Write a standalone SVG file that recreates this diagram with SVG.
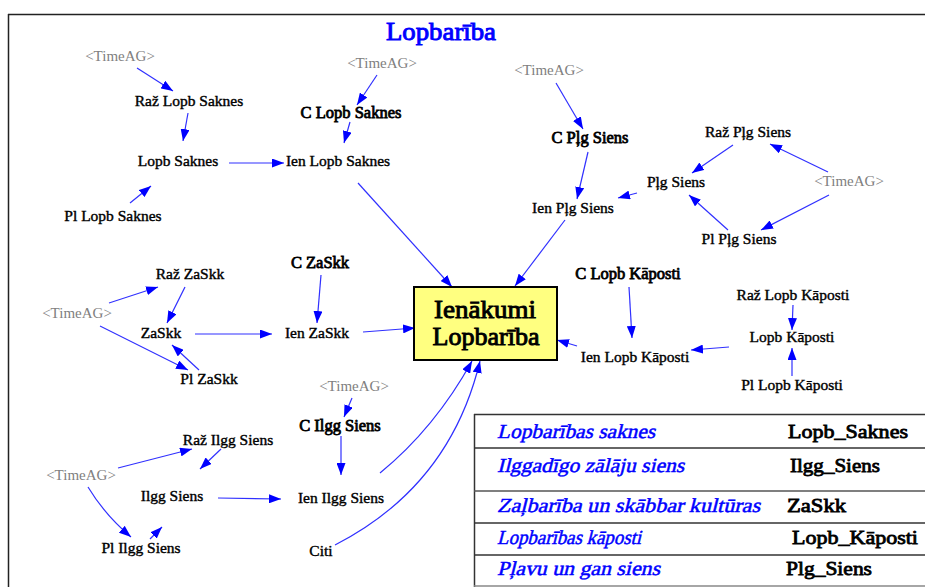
<svg xmlns="http://www.w3.org/2000/svg" width="925" height="587" viewBox="0 0 925 587">
<defs>
<marker id="ah" viewBox="0 0 12 9" refX="12" refY="4.5" markerWidth="12" markerHeight="9" markerUnits="userSpaceOnUse" orient="auto">
<path d="M0,0 L12,4.5 L0,9 z" fill="#0000ff"/>
</marker>
<style>
text{font-family:'Liberation Serif','Times New Roman',serif;font-weight:normal;}
.n{font-size:15.5px;fill:#000;stroke:#000;stroke-width:0.4;text-anchor:middle;}
.c{font-size:16.5px;fill:#000;stroke:#000;stroke-width:0.8;text-anchor:middle;}
.t{font-size:15px;fill:#808080;text-anchor:middle;}
.e{fill:none;stroke:#3030ff;stroke-width:1.2;marker-end:url(#ah);}
.lg{font-size:20px;fill:#0000ff;stroke:#0000ff;stroke-width:0.5;}
.lr{font-size:19px;fill:#000;stroke:#000;stroke-width:0.8;}
.big{font-size:25px;stroke-width:0.9;text-anchor:middle;}
.rl{stroke:#333;stroke-width:1.5;}
</style>
</defs>
<rect width="925" height="587" fill="#fff"/>
<g id="frame">
<line x1="8" y1="14.5" x2="925" y2="14.5" stroke="#222" stroke-width="1.5"/>
<line x1="8.5" y1="14" x2="8.5" y2="587" stroke="#222" stroke-width="1.5"/>
</g>
<text class="big" x="441" y="40" fill="#0000ff" stroke="#0000ff" textLength="110" lengthAdjust="spacingAndGlyphs">Lopbarība</text>

<g id="connectors">
<path class="e" d="M137,68 L173,91"/>
<path class="e" d="M188,113 L183,141"/>
<path class="e" d="M229,163 L284,163"/>
<path class="e" d="M377,75 L357,105"/>
<path class="e" d="M350,122 L344,143"/>
<path class="e" d="M130,203 L151,186"/>
<path class="e" d="M358,183 L452,287"/>
<path class="e" d="M556,83 L583,129"/>
<path class="e" d="M588,152 L577,199"/>
<path class="e" d="M637,193 L618,198"/>
<path class="e" d="M733,145 L692,173"/>
<path class="e" d="M828,172 L770,144"/>
<path class="e" d="M829,195 L761,230"/>
<path class="e" d="M728,230 L689,195"/>
<path class="e" d="M565,220 L515,286"/>
<path class="e" d="M109,303 L158,287"/>
<path class="e" d="M185,287 L167,323"/>
<path class="e" d="M100,326 L188,370"/>
<path class="e" d="M199,370 L172,345"/>
<path class="e" d="M195,334 L272,334"/>
<path class="e" d="M321,275 L317,323"/>
<path class="e" d="M363,332 L415,328"/>
<path class="e" d="M629,287 L632,338"/>
<path class="e" d="M793,305 L792,330"/>
<path class="e" d="M792,376 L792,348"/>
<path class="e" d="M729,347 L691,350"/>
<path class="e" d="M577,346 L557,340"/>
<path class="e" d="M118,468 L192,449"/>
<path class="e" d="M221,449 L200,469"/>
<path class="e" d="M88,487 Q105,515 131,537"/>
<path class="e" d="M150,539 L162,527"/>
<path class="e" d="M218,498 L281,499"/>
<path class="e" d="M352,398 L344,417"/>
<path class="e" d="M341,436 L341,475"/>
<path class="e" d="M380,473 Q435,428 472,361"/>
<path class="e" d="M335,545 Q450,486 480,361"/>
</g>

<g id="ienakumi">
<rect x="414" y="287" width="143" height="73" fill="#ffff80" stroke="#000" stroke-width="2"/>
<text class="big" x="485" y="318" fill="#000" stroke="#000" textLength="102" lengthAdjust="spacingAndGlyphs">Ienākumi</text>
<text class="big" x="486" y="345" fill="#000" stroke="#000" textLength="107" lengthAdjust="spacingAndGlyphs">Lopbarība</text>
</g>

<g id="time1"><text class="t" x="120" y="61">&lt;TimeAG&gt;</text></g>
<g id="raz_lopb_saknes"><text class="n" x="189" y="106">Raž Lopb Saknes</text></g>
<g id="lopb_saknes"><text class="n" x="178" y="166">Lopb Saknes</text></g>
<g id="pl_lopb_saknes"><text class="n" x="113" y="221">Pl Lopb Saknes</text></g>
<g id="time2"><text class="t" x="382" y="68">&lt;TimeAG&gt;</text></g>
<g id="c_lopb_saknes"><text class="c" x="351" y="118">C Lopb Saknes</text></g>
<g id="ien_lopb_saknes"><text class="n" x="338" y="166">Ien Lopb Saknes</text></g>

<g id="time3"><text class="t" x="549" y="75">&lt;TimeAG&gt;</text></g>
<g id="c_plg_siens"><text class="c" x="590" y="143">C Pļg Siens</text></g>
<g id="ien_plg_siens"><text class="n" x="573" y="213">Ien Pļg Siens</text></g>
<g id="plg_siens"><text class="n" x="676" y="187">Pļg Siens</text></g>
<g id="raz_plg_siens"><text class="n" x="748" y="137">Raž Pļg Siens</text></g>
<g id="time4"><text class="t" x="849" y="186">&lt;TimeAG&gt;</text></g>
<g id="pl_plg_siens"><text class="n" x="739" y="244">Pl Pļg Siens</text></g>

<g id="raz_zaskk"><text class="n" x="190" y="279">Raž ZaSkk</text></g>
<g id="time5"><text class="t" x="77" y="318">&lt;TimeAG&gt;</text></g>
<g id="zaskk"><text class="n" x="161" y="338">ZaSkk</text></g>
<g id="pl_zaskk"><text class="n" x="209" y="384">Pl ZaSkk</text></g>
<g id="c_zaskk"><text class="c" x="320" y="268">C ZaSkk</text></g>
<g id="ien_zaskk"><text class="n" x="317" y="338">Ien ZaSkk</text></g>

<g id="c_lopb_kaposti"><text class="c" x="628" y="279">C Lopb Kāposti</text></g>
<g id="raz_lopb_kaposti"><text class="n" x="793" y="300">Raž Lopb Kāposti</text></g>
<g id="lopb_kaposti"><text class="n" x="792" y="342">Lopb Kāposti</text></g>
<g id="ien_lopb_kaposti"><text class="n" x="635" y="362">Ien Lopb Kāposti</text></g>
<g id="pl_lopb_kaposti"><text class="n" x="792" y="390">Pl Lopb Kāposti</text></g>

<g id="time6"><text class="t" x="81" y="480">&lt;TimeAG&gt;</text></g>
<g id="raz_ilgg_siens"><text class="n" x="228" y="445">Raž Ilgg Siens</text></g>
<g id="ilgg_siens"><text class="n" x="172" y="501">Ilgg Siens</text></g>
<g id="pl_ilgg_siens"><text class="n" x="141" y="553">Pl Ilgg Siens</text></g>
<g id="time7"><text class="t" x="354" y="391">&lt;TimeAG&gt;</text></g>
<g id="c_ilgg_siens"><text class="c" x="340" y="431">C Ilgg Siens</text></g>
<g id="ien_ilgg_siens"><text class="n" x="341" y="503">Ien Ilgg Siens</text></g>
<g id="citi"><text class="n" x="321" y="556">Citi</text></g>

<g id="legend">
<line class="rl" x1="474.5" y1="414" x2="474.5" y2="587"/>
<line class="rl" x1="474" y1="414.5" x2="925" y2="414.5"/>
<line class="rl" x1="474" y1="448" x2="925" y2="448"/>
<line class="rl" x1="474" y1="491" x2="925" y2="491" style="stroke:#555"/>
<line class="rl" x1="474" y1="523" x2="925" y2="523"/>
<line class="rl" x1="474" y1="555" x2="925" y2="555"/>
<line class="rl" x1="474" y1="586" x2="925" y2="586" style="stroke:#888"/>
<g transform="translate(497,438) skewX(-14)"><text class="lg" x="0" y="0" textLength="158" lengthAdjust="spacingAndGlyphs">Lopbarības saknes</text></g>
<g transform="translate(497,472) skewX(-14)"><text class="lg" x="0" y="0" textLength="187" lengthAdjust="spacingAndGlyphs">Ilggadīgo zālāju siens</text></g>
<g transform="translate(497,512) skewX(-14)"><text class="lg" x="0" y="0" textLength="263" lengthAdjust="spacingAndGlyphs">Zaļbarība un skābbar kultūras</text></g>
<g transform="translate(497,544) skewX(-14)"><text class="lg" x="0" y="0" textLength="144" lengthAdjust="spacingAndGlyphs">Lopbarības kāposti</text></g>
<g transform="translate(497,575) skewX(-14)"><text class="lg" x="0" y="0" textLength="163" lengthAdjust="spacingAndGlyphs">Pļavu un gan siens</text></g>
<text class="lr" x="788" y="438" textLength="120" lengthAdjust="spacingAndGlyphs">Lopb_Saknes</text>
<text class="lr" x="790" y="472" textLength="90" lengthAdjust="spacingAndGlyphs">Ilgg_Siens</text>
<text class="lr" x="787" y="512" textLength="59" lengthAdjust="spacingAndGlyphs">ZaSkk</text>
<text class="lr" x="792" y="544" textLength="126" lengthAdjust="spacingAndGlyphs">Lopb_Kāposti</text>
<text class="lr" x="786" y="575" textLength="86" lengthAdjust="spacingAndGlyphs">Plg_Siens</text>
</g>
</svg>
